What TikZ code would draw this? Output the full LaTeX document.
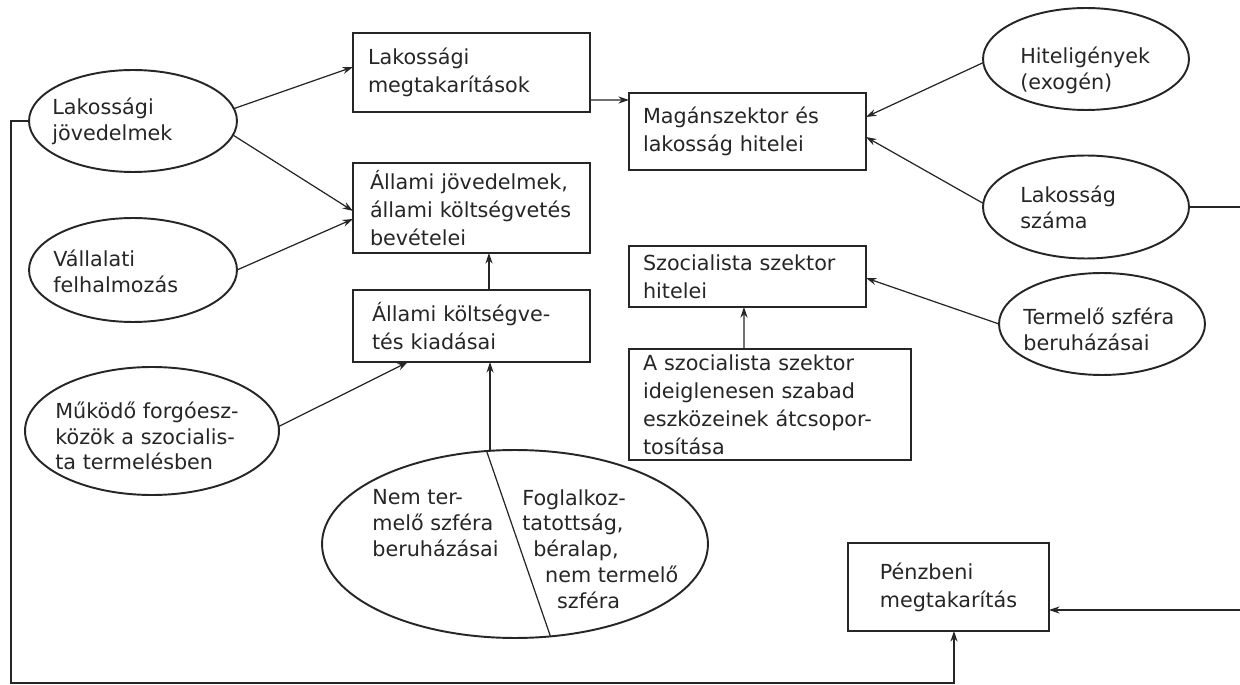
\documentclass[tikz,border=0pt]{standalone}
\usepackage{fontspec}
\setmainfont{DejaVu Sans}
\usetikzlibrary{shapes.geometric,arrows.meta,calc}
\newcommand\dgboxfont{\fontsize{11.8}{16}\selectfont}
\newcommand\dgelfont{\fontsize{11.8}{14.7}\selectfont}
\begin{document}
\begin{tikzpicture}[x=0.02cm, y=-0.02cm,
  box/.style={draw=black!85, line width=1.1pt, rectangle, anchor=north west, align=left,
              outer sep=0pt, inner ysep=0pt, minimum width=4.74cm, font=\dgboxfont, text=black!85},
  ell/.style={draw=black!85, line width=1.1pt, ellipse, inner sep=0pt, outer sep=0pt},
  etxt/.style={anchor=west, align=left, inner sep=0pt, font=\dgelfont, text=black!85},
  arr/.style={draw=black!85, line width=0.7pt, -{Stealth[length=6pt,width=4pt]}},
  lp/.style={draw=black!85, line width=0.8pt, -{Stealth[length=6pt,width=4pt]}}
]
\useasboundingbox[fill=white] (0,0) rectangle (1240,685);

% boxes
\node[box, minimum height=1.58cm, inner xsep=0.30cm, text width=4.14cm] (lm) at (353,33) {Lakossági\\megtakarítások};
\node[box, minimum height=1.54cm, inner xsep=0.28cm, text width=4.18cm] (mh) at (629,93) {Magánszektor~és\\lakosság~hitelei};
\node[box, minimum height=1.80cm, inner xsep=0.34cm, text width=4.06cm] (aj) at (353,163) {Állami~jövedelmek,\\állami~költségvetés\\bevételei};
\node[box, minimum height=1.22cm, inner xsep=0.28cm, text width=4.18cm] (sh) at (629,246) {Szocialista~szektor\\hitelei};
\node[box, minimum height=1.44cm, inner xsep=0.38cm, text width=3.98cm] (ak) at (353,290) {Állami~költségve-\\tés~kiadásai};
\node[box, minimum width=5.64cm, minimum height=2.22cm, inner xsep=0.28cm, text width=5.08cm] (sz) at (629,349) {A~szocialista~szektor\\ideiglenesen~szabad\\eszközeinek~átcsopor-\\tosítása};
\node[box, minimum width=4.02cm, minimum height=1.76cm] (pm) at (848,543) {Pénzbeni\\megtakarítás};

% ellipses
\node[ell, minimum width=4.16cm, minimum height=2.04cm] (lj) at (133,121) {};
\node[etxt] (ljt) at ($(lj)+(-81,0)$) {Lakossági\\jövedelmek};
\node[ell, minimum width=4.16cm, minimum height=2.08cm] (vf) at (133,270) {};
\node[etxt] (vft) at ($(vf)+(-80,1)$) {Vállalati\\felhalmozás};
\node[ell, minimum width=5.08cm, minimum height=2.56cm] (mf) at (152,431) {};
\node[etxt] (mft) at ($(mf)+(-97,5)$) {Működő forgóesz-\\közök a szocialis-\\ta termelésben};
\node[ell, minimum width=4.12cm, minimum height=2.04cm] (he) at (1086,59) {};
\node[etxt] (het) at ($(he)+(-66,11)$) {Hiteligények\\(exogén)};
\node[ell, minimum width=4.12cm, minimum height=2.06cm] (ls) at (1086,207) {};
\node[etxt] (lst) at ($(ls)+(-66,0)$) {Lakosság\\száma};
\node[ell, minimum width=4.12cm, minimum height=2.04cm] (tb) at (1102,324) {};
\node[etxt] (tbt) at ($(tb)+(-79,5.5)$) {Termelő szféra\\beruházásai};
\node[ell, minimum width=7.72cm, minimum height=3.76cm] (big) at (515,544) {};
\draw[draw=black!85, line width=0.7pt] (big.107.3) -- (big.-69.2);
\node[etxt] (bigl) at (372,523) {Nem ter-\\melő szféra\\beruházásai};
\node[etxt] (bigr) at (522,549) {Foglalkoz-\\tatottság,\\\hspace*{6.2pt}béralap,\\\hspace*{13pt}nem termelő\\\hspace*{19.8pt}szféra};

% connectors
\draw[arr] (lj.7) -- ($(lm.west)+(0,-5.5)$);
\draw[arr] (lj.-8) -- ($(aj.west)+(0,3)$);
\draw[arr] (vf.east) -- ($(aj.west)+(0,11)$);
\draw[arr] (mf.2) -- ($(ak.south west)+(55,0)$);
\draw[arr] ($(ak.north)+(17.5,0)$) -- ($(aj.south)+(17.5,0)$);
\draw[arr] (big.105.6) -- (big.105.6 |- ak.south);
\draw[arr] ($(lm.south east)+(0,-12)$) -- ($(mh.west)+(0,-31.5)$);
\draw[arr] (he.182) -- ($(mh.east)+(0,-14.5)$);
\draw[arr] (ls.178) -- ($(mh.east)+(0,5.5)$);
\draw[arr] (tb.west) -- ($(sh.east)+(0,1.5)$);
\draw[arr] ($(sz.north)+(-26,0)$) -- ($(sh.south)+(-3.5,0)$);
\coordinate (rt) at (1259,207);
\draw[arr] (ls.east) -- (rt) |- ($(pm.east)+(0,23)$);
\coordinate (bl) at (11,683);
\draw[lp] (lj.west) -| (bl) -| ($(pm.south)+(5.5,0)$);
\end{tikzpicture}
\end{document}
